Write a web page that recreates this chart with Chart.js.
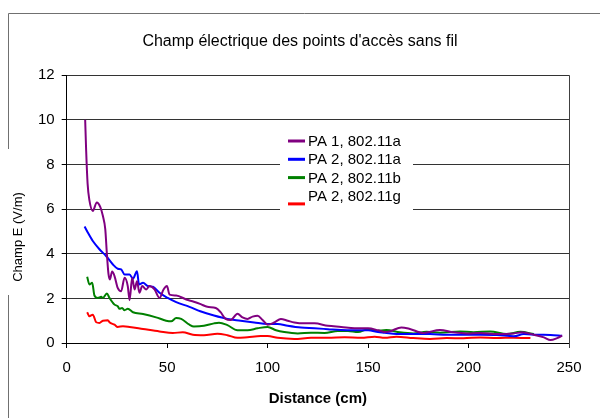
<!DOCTYPE html>
<html><head><meta charset="utf-8">
<script src="https://cdn.jsdelivr.net/npm/chart.js@4.4.1/dist/chart.umd.min.js"></script>
<style>html,body{margin:0;padding:0;background:#fff}#wrap{width:600px;height:418px;position:relative}</style>
</head><body><div id="wrap"><canvas id="c" width="600" height="418"></canvas></div>
<script>
const chartTitle = "Champ électrique des points d'accès sans fil";
const xTitle = "Distance (cm)";
const yTitle = "Champ E (V/m)";
const seriesLabels = ["PA 1, 802.11a", "PA 2, 802.11a", "PA 2, 802.11b", "PA 2, 802.11g"];
const seriesColors = ["#800080", "#0000FF", "#008000", "#FF0000"];
const xTickValues = [0, 50, 100, 150, 200, 250];
const yTickValues = [0, 2, 4, 6, 8, 10, 12];

const distPA1a = [9.2, 9.7, 10.4, 11.3, 13, 15, 16.7, 18, 19.2, 20, 20.8, 21.5, 22.6, 23.8, 25.4, 27.1, 28.8, 30.4, 31.3, 32.6, 33.8, 35, 36.2, 37.6, 39.6, 41.2, 43.7, 46.2, 48.2, 49.9, 51.2, 54.5, 59.5, 63.3, 66.7, 70, 74.2, 76.6, 79.1, 81.6, 85, 87.5, 90, 92.5, 95, 97.5, 100, 103.3, 106.6, 110, 113.3, 118.3, 123.3, 130, 136.6, 143.3, 150, 155, 158.3, 160.8, 166.6, 170.8, 177.5, 185.8, 192.5, 199.1, 205.8, 214.1, 222.5, 226.6, 232.5, 237.5, 240.8, 244.1, 246.6];
const champPA1a = [10.0, 8.6, 7.15, 6.4, 5.92, 6.3, 6.1, 5.7, 5.1, 4.0, 3.1, 2.85, 3.2, 3.0, 2.47, 2.32, 2.92, 2.55, 1.92, 2.92, 2.4, 2.77, 2.25, 2.55, 2.4, 2.55, 2.4, 2.02, 2.4, 2.55, 2.17, 2.13, 1.95, 1.85, 1.74, 1.62, 1.57, 1.38, 1.08, 1.03, 1.31, 1.15, 1.08, 1.18, 1.22, 1.03, 0.82, 0.92, 1.08, 1.0, 0.92, 0.88, 0.88, 0.77, 0.72, 0.66, 0.66, 0.57, 0.49, 0.52, 0.7, 0.63, 0.45, 0.58, 0.48, 0.43, 0.45, 0.4, 0.43, 0.48, 0.37, 0.25, 0.13, 0.22, 0.33];

const distPA2a = [8.9, 10.5, 13, 16.3, 19.6, 23, 25.4, 27.1, 28.8, 31.3, 33, 35, 36, 38, 40.4, 42.9, 46.2, 50.3, 54.5, 61.1, 66.5, 73.3, 80, 86.6, 93.3, 100, 105, 110, 116.6, 123.3, 130, 136.6, 143.3, 150, 155, 158.3, 164.1, 172.5, 180.8, 189.1, 197.5, 205.8, 214.1, 222.5, 227.5, 234.1, 240.8, 246.6];
const champPA2a = [5.22, 4.95, 4.57, 4.2, 3.9, 3.52, 3.33, 3.3, 3.07, 3.07, 2.88, 3.22, 2.62, 2.7, 2.55, 2.52, 2.25, 2.02, 1.83, 1.62, 1.42, 1.23, 1.08, 1.0, 0.92, 0.85, 0.85, 0.77, 0.69, 0.66, 0.62, 0.58, 0.57, 0.57, 0.49, 0.46, 0.4, 0.4, 0.4, 0.37, 0.37, 0.37, 0.36, 0.3, 0.4, 0.37, 0.36, 0.33];

const distPA2b = [10.2, 11.3, 12.7, 13.8, 15.5, 17.2, 18, 20, 21.3, 23.8, 25.4, 26.3, 27.6, 28.8, 30.4, 33, 38, 44.5, 49.5, 52, 54.5, 57, 61.1, 63.3, 68.3, 73.3, 75.8, 80, 85, 90, 95, 100, 104.2, 108.3, 115, 121.6, 128.3, 135, 140, 145, 150, 154, 159.1, 165.8, 172.5, 179.1, 185.8, 195.8, 202.5, 210.8, 219.1, 225.8, 232.5];
const champPA2b = [2.97, 2.62, 2.7, 2.13, 2.02, 2.07, 2.02, 2.22, 2.02, 1.72, 1.65, 1.53, 1.57, 1.47, 1.53, 1.38, 1.3, 1.15, 1.0, 0.97, 1.12, 1.08, 0.82, 0.74, 0.77, 0.88, 0.91, 0.8, 0.57, 0.57, 0.66, 0.72, 0.57, 0.49, 0.43, 0.46, 0.45, 0.54, 0.54, 0.49, 0.62, 0.54, 0.58, 0.48, 0.43, 0.5, 0.46, 0.52, 0.48, 0.52, 0.4, 0.5, 0.4];

const distPA2g = [10.2, 11.3, 13, 14.7, 16.3, 18, 20.5, 21.3, 23.8, 25.4, 28, 31.3, 38, 46.2, 52.8, 57.8, 62.8, 68.3, 75, 80, 85, 90, 96.6, 100, 105, 113.3, 121.6, 130, 138.3, 146.6, 153.3, 158.3, 164.1, 172.5, 180.8, 189.1, 197.5, 205.8, 214.1, 222.5, 230.8];
const champPA2g = [1.38, 1.2, 1.27, 0.93, 0.9, 1.0, 1.02, 0.93, 0.82, 0.72, 0.75, 0.72, 0.63, 0.52, 0.45, 0.48, 0.37, 0.35, 0.42, 0.35, 0.23, 0.26, 0.31, 0.31, 0.23, 0.18, 0.23, 0.23, 0.26, 0.23, 0.28, 0.23, 0.28, 0.22, 0.18, 0.22, 0.21, 0.25, 0.22, 0.24, 0.22];

const seriesDist = [distPA1a, distPA2a, distPA2b, distPA2g];
const seriesChamp = [champPA1a, champPA2a, champPA2b, champPA2g];

const FONT = "'Liberation Sans', Arial, sans-serif";
Chart.defaults.font.family = FONT;
Chart.defaults.color = '#000';

const datasets = seriesLabels.map((lab, i) => ({
  label: lab,
  data: seriesDist[i].map((x, k) => ({ x: x, y: seriesChamp[i][k] })),
  borderColor: seriesColors[i],
  backgroundColor: seriesColors[i],
  borderWidth: 2,
  pointRadius: 0,
  fill: false,
  cubicInterpolationMode: 'monotone'
}));

const decor = {
  id: 'decor',
  beforeDraw(chart) {
    const ctx = chart.ctx;
    ctx.save();
    ctx.fillStyle = '#fff';
    ctx.fillRect(0, 0, chart.width, chart.height);
    ctx.restore();
  },
  afterDraw(chart) {
    const ctx = chart.ctx;
    const a = chart.chartArea;
    ctx.save();
    ctx.strokeStyle = '#707070';
    ctx.lineWidth = 1;
    ctx.beginPath();
    ctx.moveTo(8.5, 13.5); ctx.lineTo(chart.width, 13.5);
    ctx.moveTo(8.5, 13.5); ctx.lineTo(8.5, 149);
    ctx.moveTo(8.5, 295); ctx.lineTo(8.5, chart.height);
    ctx.stroke();
    ctx.strokeStyle = '#404040';
    ctx.beginPath();
    ctx.moveTo(Math.round(a.right) + 0.5, a.top);
    ctx.lineTo(Math.round(a.right) + 0.5, a.bottom + 5);
    ctx.stroke();
    ctx.fillStyle = '#000';
    ctx.font = '13px ' + FONT;
    ctx.textAlign = 'center';
    ctx.textBaseline = 'middle';
    ctx.translate(18, 237);
    ctx.rotate(-Math.PI / 2);
    ctx.fillText(yTitle, 0, 0);
    ctx.restore();
    ctx.save();
    const bx = 280, by = 128, bw = 133, bh = 86;
    ctx.fillStyle = '#fff';
    ctx.fillRect(bx, by, bw, bh);
    ctx.font = '15px ' + FONT;
    ctx.textAlign = 'left';
    ctx.textBaseline = 'middle';
    chart.data.datasets.forEach((ds, i) => {
      const cy = 142 + i * 18.3;
      const ly = i === 3 ? cy + 7 : cy - 1;
      ctx.strokeStyle = ds.borderColor;
      ctx.lineWidth = 3;
      ctx.beginPath();
      ctx.moveTo(288, ly); ctx.lineTo(305, ly);
      ctx.stroke();
      ctx.fillStyle = '#000';
      ctx.fillText(ds.label, 308, cy);
    });
    ctx.restore();
  }
};

new Chart(document.getElementById('c'), {
  type: 'line',
  data: { datasets: datasets },
  plugins: [decor],
  options: {
    responsive: false,
    animation: false,
    devicePixelRatio: 1,
    layout: { padding: { left: 31, right: 31, top: 0, bottom: 0 } },
    plugins: {
      legend: { display: false },
      tooltip: { enabled: false },
      title: {
        display: true, text: chartTitle, color: '#000',
        font: { size: 16, weight: 'normal' },
        padding: { top: 32, bottom: 24 }
      }
    },
    scales: {
      x: {
        type: 'linear', min: 0, max: 250,
        afterBuildTicks: s => { s.ticks = xTickValues.map(v => ({ value: v })); },
        afterFit: s => { s.height = 75; },
        grid: { drawOnChartArea: false, drawTicks: true, tickLength: 5, color: '#000' },
        border: { display: true, color: '#000', width: 1 },
        ticks: { font: { size: 15 }, color: '#000', padding: 11, maxRotation: 0 },
        title: { display: true, text: xTitle, color: '#000', font: { size: 15, weight: 'bold' }, padding: { top: 5, bottom: 10 } }
      },
      y: {
        type: 'linear', min: 0, max: 12,
        afterBuildTicks: s => { s.ticks = yTickValues.map(v => ({ value: v })); },
        grid: { color: '#333', tickLength: 5, tickColor: '#000' },
        border: { display: true, color: '#000', width: 1 },
        ticks: { font: { size: 15 }, color: '#000', padding: 7 }
      }
    }
  }
});
</script>
</body></html>
